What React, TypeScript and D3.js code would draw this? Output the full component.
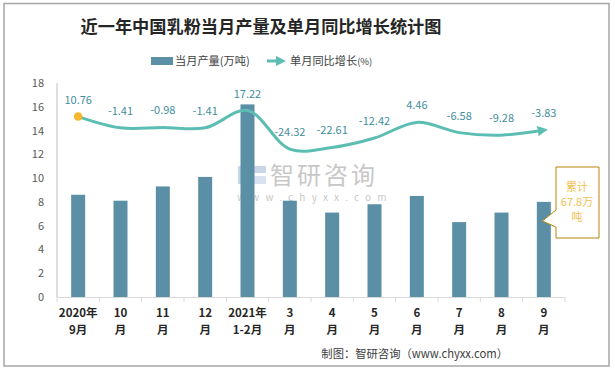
import React from 'react';
import * as d3 from 'd3';

const labelTop = ['2020年', '10', '11', '12', '2021年', '3', '4', '5', '6', '7', '8', '9'];
const labelBottom = ['9月', '月', '月', '月', '1-2月', '月', '月', '月', '月', '月', '月', '月'];
const output = [8.6, 8.1, 9.3, 10.1, 16.2, 8.1, 7.1, 7.8, 8.5, 6.3, 7.1, 8.0];
const growth = [10.76, -1.41, -0.98, -1.41, 17.22, -24.32, -22.61, -12.42, 4.46, -6.58, -9.28, -3.83];
const totalNote = ['累计', '67.8万', '吨'];

const W = 615;
const H = 369;
const plot = { left: 57, right: 565, top: 83, bottom: 297 };

const BAR = '#5b8fa6';
const LINE = '#5cbdb3';
const LABEL = '#3f8e9c';
const CJK = '"Noto Sans CJK SC", "Noto Sans", sans-serif';

const App = () => {
  const x = d3.scaleBand<number>()
    .domain(d3.range(output.length))
    .range([plot.left, plot.right]);
  const y = d3.scaleLinear().domain([0, 18]).range([plot.bottom, plot.top]);
  // hidden secondary axis for the growth line
  const y2 = d3.scaleLinear().domain([-184, 47]).range([plot.bottom, plot.top]);

  const cx = (i: number) => (x(i) as number) + x.bandwidth() / 2;
  const barW = 14;

  const line = d3.line<number>()
    .x((_, i) => cx(i))
    .y(d => y2(d))
    .curve(d3.curveCatmullRom.alpha(0.5));

  const boundaries = d3.range(output.length + 1).map(i => plot.left + i * x.step());

  // callout box next to the last bar
  const last = output.length - 1;
  const bx0 = 556, bx1 = 599, by0 = 167, by1 = 238;
  const tipX = cx(last) - 1.5, tipY = 221;
  const callout = `M${bx0},${by0} H${bx1} V${by1} H${bx0} V227 L${tipX},${tipY} L${bx0},210 Z`;

  return (
    <svg width={W} height={H} style={{ position: 'absolute', left: 0, top: 0, background: '#fff' }}>
      <defs>
        <marker id="arrow" viewBox="0 0 10 10" refX="6" refY="5" markerWidth="3.4" markerHeight="3.4" orient="auto">
          <path d="M0,0 L10,5 L0,10 Z" fill={LINE} />
        </marker>
      </defs>
      <rect x={4} y={3.5} width={605} height={362.5} fill="#fff" stroke="#a6a6a6" strokeWidth={1.5} />

      <text x={261} y={33} textAnchor="middle" fontFamily={CJK} fontWeight="bold" fontSize={17.2} fill="#262626">
        近一年中国乳粉当月产量及单月同比增长统计图
      </text>

      {/* legend */}
      <rect x={151} y={57} width={22} height={8} fill={BAR} />
      <text x={175} y={65} fontFamily={CJK} fontSize={11.2} fill="#404040">当月产量(万吨)</text>
      <line x1={267} y1={61} x2={282} y2={61} stroke={LINE} strokeWidth={3} markerEnd="url(#arrow)" />
      <text x={290} y={65} fontFamily={CJK} fontSize={11.2} fill="#404040">单月同比增长<tspan fontSize={9.5}>(%)</tspan></text>

      {/* watermark */}
      <g opacity={0.55}>
        <rect x={238} y={166} width={8} height={18} fill="#9db7d6" />
        <rect x={248} y={166} width={18} height={7} fill="#9db7d6" />
        <rect x={248} y={176} width={18} height={8} fill="#b9cde3" />
        <text x={270} y={184} fontFamily={CJK} fontSize={24} fill="#9a9a9a" letterSpacing={3}>智研咨询</text>
        <text x={237} y={201} fontFamily={CJK} fontSize={10} fill="#9a9a9a" letterSpacing={6.2}>www.chyxx.com</text>
      </g>

      {/* axes */}
      <line x1={plot.left} y1={plot.top} x2={plot.left} y2={plot.bottom} stroke="#bfbfbf" />
      <line x1={plot.left} y1={plot.bottom + 0.5} x2={plot.right} y2={plot.bottom + 0.5} stroke="#d9d9d9" />
      {boundaries.map((b, i) => (
        <line key={i} x1={b} y1={plot.bottom} x2={b} y2={plot.bottom + 5} stroke="#d9d9d9" />
      ))}
      {y.ticks(9).map(t => (
        <text key={t} x={44} y={y(t) + 4} textAnchor="end" fontFamily={CJK} fontSize={11} fill="#595959">{t}</text>
      ))}

      {/* bars */}
      {output.map((v, i) => (
        <rect key={i} x={cx(i) - barW / 2} y={y(v)} width={barW} height={plot.bottom - y(v)} fill={BAR} />
      ))}

      {/* growth line */}
      <path d={line(growth) || ''} fill="none" stroke={LINE} strokeWidth={3} markerEnd="url(#arrow)" />
      <circle cx={cx(0)} cy={y2(growth[0])} r={4.3} fill="#f5b730" />
      {growth.map((g, i) => (
        <text key={i} x={cx(i)} y={y2(g) - 13} textAnchor="middle" fontFamily={CJK} fontSize={11} fill={LABEL}>
          {g.toFixed(2)}
        </text>
      ))}

      {/* x labels */}
      {labelTop.map((t, i) => (
        <g key={i} fontFamily={CJK} fontWeight="bold" fontSize={11.5} fill="#262626" textAnchor="middle">
          <text x={cx(i)} y={317}>{t}</text>
          <text x={cx(i)} y={334}>{labelBottom[i]}</text>
        </g>
      ))}

      {/* callout */}
      <path d={callout} fill="#fff" stroke="#b8860b" strokeWidth={1} />
      {totalNote.map((t, i) => (
        <text key={i} x={577} y={191 + i * 15} textAnchor="middle" fontFamily={CJK} fontSize={11} fill="#f2c14e">{t}</text>
      ))}

      <text x={508} y={358} textAnchor="end" fontFamily={CJK} fontSize={11.3} fill="#404040">
        制图：智研咨询（www.chyxx.com）
      </text>
    </svg>
  );
};

export default App;
